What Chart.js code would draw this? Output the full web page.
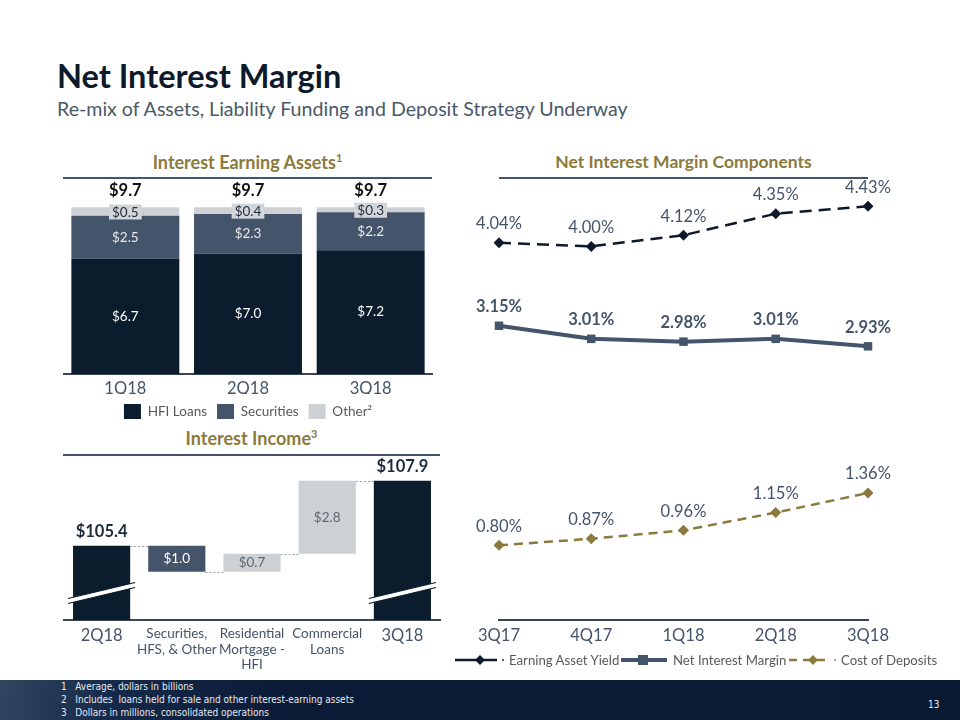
<!DOCTYPE html>
<html>
<head>
<meta charset="utf-8">
<script src="https://cdn.jsdelivr.net/npm/chart.js@4.4.1/dist/chart.umd.min.js"></script>
<style>
  html,body{margin:0;padding:0;}
  body{width:960px;height:720px;position:relative;background:#fff;overflow:hidden;font-family:Lato,"Open Sans",sans-serif;}
  .abs{position:absolute;}
  #title{left:57px;top:56px;font-size:32.5px;font-weight:bold;color:#0c1a2b;white-space:nowrap;}
  #sub{left:57px;top:97px;font-size:19.6px;color:#4a5968;white-space:nowrap;}
  .sect{font-size:17.5px;font-weight:bold;color:#8b7a3e;text-align:center;white-space:nowrap;}
  .sect sup{font-size:11px;vertical-align:7px;line-height:0;}
  .rule{height:2px;background:#44546a;}
  canvas{position:absolute;}
  #legend3{left:455px;top:650px;height:20px;font-size:13.2px;color:#595959;white-space:nowrap;}
  #legend3 .it{position:absolute;top:0;height:20px;line-height:20px;}
  #footer{left:0;top:680px;width:960px;height:40px;background:linear-gradient(100deg,#31465f 0%,#15294a 12%,#0b1b36 30%,#0a1a33 100%);}
  .fn{position:absolute;font-family:"Liberation Sans Narrow","DejaVu Sans Condensed",sans-serif;font-size:10px;color:#e6e9ee;white-space:nowrap;line-height:12px;}
</style>
</head>
<body>
<div id="title" class="abs">Net Interest Margin</div>
<div id="sub" class="abs">Re-mix of Assets, Liability Funding and Deposit Strategy Underway</div>

<div class="abs sect" style="left:63px;width:369px;top:151px;font-size:18px;">Interest Earning Assets<sup>1</sup></div>
<div class="abs rule" style="left:63px;width:369px;top:177px;"></div>

<div class="abs sect" style="left:63px;width:377px;top:427px;font-size:18px;">Interest Income<sup>3</sup></div>
<div class="abs rule" style="left:63px;width:377px;top:454px;"></div>

<div class="abs sect" style="left:499px;width:369px;top:151px;">Net Interest Margin Components</div>
<div class="abs rule" style="left:499px;width:369px;top:177px;"></div>

<canvas id="c1" style="left:56px;top:180px;width:384px;height:249px;" width="384" height="249"></canvas>
<canvas id="c2" style="left:56px;top:445px;width:392px;height:230px;" width="392" height="230"></canvas>
<canvas id="c3" style="left:440px;top:175px;width:500px;height:475px;" width="500" height="475"></canvas>

<div id="legend3" class="abs">
  <div class="it" style="left:0;">
    <svg width="54" height="20" style="position:absolute;left:0;top:0;">
      <line x1="0" y1="10" x2="42" y2="10" stroke="#0c1a2b" stroke-width="2.5"/>
      <polygon points="25,5 30,10 25,15 20,10" fill="#0c1a2b"/>
      <circle cx="48" cy="10" r="0.9" fill="#0c1a2b"/>
    </svg>
    <span style="position:absolute;left:54px;">Earning Asset Yield</span>
  </div>
  <div class="it" style="left:166px;">
    <svg width="48" height="20" style="position:absolute;left:0;top:0;">
      <line x1="0" y1="10" x2="46" y2="10" stroke="#44546a" stroke-width="4"/>
      <rect x="17" y="5" width="10" height="10" fill="#44546a"/>
    </svg>
    <span style="position:absolute;left:52px;">Net Interest Margin</span>
  </div>
  <div class="it" style="left:334px;">
    <svg width="50" height="20" style="position:absolute;left:0;top:0;">
      <line x1="0" y1="10" x2="41" y2="10" stroke="#8b7a3e" stroke-width="2.5" stroke-dasharray="8,6"/>
      <polygon points="24,5 29,10 24,15 19,10" fill="#8b7a3e"/>
      <circle cx="46" cy="10" r="0.9" fill="#8b7a3e"/>
    </svg>
    <span style="position:absolute;left:52px;">Cost of Deposits</span>
  </div>
</div>

<div id="footer" class="abs">
  <div class="fn" style="left:61px;top:1px;">1&nbsp;&nbsp;&nbsp;Average, dollars in billions</div>
  <div class="fn" style="left:61px;top:14px;">2&nbsp;&nbsp;&nbsp;Includes&nbsp; loans held for sale and other interest-earning assets</div>
  <div class="fn" style="left:61px;top:27px;">3&nbsp;&nbsp;&nbsp;Dollars in millions, consolidated operations</div>
  <div class="fn" style="left:928px;top:19px;">13</div>
</div>

<script>
// ---------- DATA ----------
const assetQuarters = ['1Q18', '2Q18', '3Q18'];
const hfiLoans = [6.7, 7.0, 7.2];
const securities = [2.5, 2.3, 2.2];
const otherAssets = [0.5, 0.4, 0.3];
const assetTotals = [9.7, 9.7, 9.7];

const incomeCategories = ['2Q18', ['Securities,', 'HFS, & Other'], ['Residential', 'Mortgage -', 'HFI'], ['Commercial', 'Loans'], '3Q18'];
const incomeStart = 105.4;
const incomeChanges = [-1.0, 0.7, 2.8];
const incomeEnd = 107.9;

const nimQuarters = ['3Q17', '4Q17', '1Q18', '2Q18', '3Q18'];
const earningAssetYield = [4.04, 4.00, 4.12, 4.35, 4.43];
const netInterestMargin = [3.15, 3.01, 2.98, 3.01, 2.93];
const costOfDeposits = [0.80, 0.87, 0.96, 1.15, 1.36];

// ---------- STYLE ----------
const NAVY = '#0b1d2c';
const SLATE = '#44546a';
const LIGHT = '#cdd1d4';
const GOLD = '#8b7a3e';
const FONT = 'Lato';

Chart.defaults.font.family = FONT;
Chart.defaults.animation = false;

// ---------- CHART 1: Interest Earning Assets ----------
const assetLabelPlugin = {
  id: 'assetLabels',
  afterDatasetsDraw(chart) {
    const ctx = chart.ctx;
    ctx.save();
    ctx.textAlign = 'center';
    ctx.textBaseline = 'middle';
    chart.data.datasets.forEach((ds, di) => {
      const meta = chart.getDatasetMeta(di);
      meta.data.forEach((bar, i) => {
        const txt = '$' + ds.data[i].toFixed(1);
        const yMid = (bar.y + bar.base) / 2;
        ctx.font = '13.5px ' + FONT;
        if (di === 2) {
          const w = ctx.measureText(txt).width + 6;
          ctx.fillStyle = '#d2d6d9';
          ctx.fillRect(bar.x - w / 2, yMid - 7, w, 15);
          ctx.fillStyle = '#1e2c3b';
          ctx.fillText(txt, bar.x, yMid + 1);
        } else {
          ctx.fillStyle = di === 0 ? '#ffffff' : '#e8eaec';
          ctx.fillText(txt, bar.x, yMid);
        }
      });
    });
    const tops = chart.getDatasetMeta(2).data;
    ctx.font = 'bold 16.5px ' + FONT;
    ctx.fillStyle = '#111111';
    assetTotals.forEach((t, i) => {
      ctx.fillText('$' + t.toFixed(1), tops[i].x, tops[i].y - 17);
    });
    ctx.restore();
  }
};

new Chart(document.getElementById('c1'), {
  type: 'bar',
  data: {
    labels: assetQuarters,
    datasets: [
      { label: 'HFI Loans', data: hfiLoans, backgroundColor: NAVY },
      { label: 'Securities', data: securities, backgroundColor: SLATE },
      { label: 'Other\u00B2', data: otherAssets, backgroundColor: LIGHT }
    ]
  },
  options: {
    responsive: false,
    maintainAspectRatio: false,
    layout: { padding: { left: 8, right: 8, top: 10, bottom: 0 } },
    datasets: { bar: { categoryPercentage: 1.0, barPercentage: 0.88 } },
    scales: {
      x: {
        stacked: true,
        grid: { display: false, drawTicks: false },
        border: { display: true, color: '#3a4656', width: 2 },
        ticks: { color: SLATE, font: { size: 16.5 }, padding: 5 },
        afterFit(s) { s.height = 20; }
      },
      y: { stacked: true, display: false, min: 0, max: 10.7 }
    },
    plugins: {
      legend: {
        position: 'bottom',
        labels: { boxWidth: 17, boxHeight: 15, color: '#595959', font: { size: 13.5 }, padding: 10 }
      },
      tooltip: { enabled: false }
    }
  },
  plugins: [assetLabelPlugin]
});

// ---------- CHART 2: Interest Income waterfall ----------
const incomeAxisMin = 102.55;
const incomeRanges = [];
const incomeLevels = [];
let running = incomeStart;
incomeRanges.push([incomeAxisMin, incomeStart]);
incomeLevels.push(incomeStart);
incomeChanges.forEach(c => {
  const next = running + c;
  incomeRanges.push([Math.min(running, next), Math.max(running, next)]);
  incomeLevels.push(next);
  running = next;
});
incomeRanges.push([incomeAxisMin, incomeEnd]);
const incomeValues = [incomeStart, ...incomeChanges, incomeEnd];
const incomeColors = [NAVY, SLATE, LIGHT, LIGHT, NAVY];

const waterfallPlugin = {
  id: 'waterfall',
  afterDatasetsDraw(chart) {
    const ctx = chart.ctx;
    const yS = chart.scales.y;
    const bars = chart.getDatasetMeta(0).data;
    ctx.save();
    // dotted connectors
    ctx.strokeStyle = '#9a9a9a';
    ctx.lineWidth = 1;
    ctx.setLineDash([2, 2]);
    for (let i = 0; i < bars.length - 1; i++) {
      const y = Math.round(yS.getPixelForValue(incomeLevels[i])) + 0.5;
      ctx.beginPath();
      ctx.moveTo(bars[i].x + bars[i].width / 2, y);
      ctx.lineTo(bars[i + 1].x - bars[i + 1].width / 2, y);
      ctx.stroke();
    }
    ctx.setLineDash([]);
    // axis break marks on total bars
    [0, bars.length - 1].forEach(i => {
      const b = bars[i];
      const x0 = b.x - b.width / 2 - 5, x1 = b.x + b.width / 2 + 5;
      const yc = chart.chartArea.bottom - 27;
      const rise = 16;
      ctx.beginPath();
      ctx.moveTo(x0, yc + rise / 2 - 2.5);
      ctx.lineTo(x1, yc - rise / 2 - 2.5);
      ctx.lineTo(x1, yc - rise / 2 + 2.5);
      ctx.lineTo(x0, yc + rise / 2 + 2.5);
      ctx.closePath();
      ctx.fillStyle = '#ffffff';
      ctx.fill();
      ctx.strokeStyle = NAVY;
      ctx.lineWidth = 1.2;
      ctx.beginPath();
      ctx.moveTo(x0, yc + rise / 2 - 2.5); ctx.lineTo(x1, yc - rise / 2 - 2.5);
      ctx.moveTo(x0, yc + rise / 2 + 2.5); ctx.lineTo(x1, yc - rise / 2 + 2.5);
      ctx.stroke();
    });
    // labels
    ctx.textAlign = 'center';
    ctx.textBaseline = 'middle';
    bars.forEach((b, i) => {
      const v = incomeValues[i];
      const txt = '$' + Math.abs(v).toFixed(1);
      if (i === 0 || i === bars.length - 1) {
        ctx.font = 'bold 16.5px ' + FONT;
        ctx.fillStyle = '#1c2b3a';
        ctx.fillText(txt, b.x, Math.min(b.y, b.base) - 14);
      } else {
        ctx.font = '13.5px ' + FONT;
        ctx.fillStyle = i === 1 ? '#ffffff' : '#5d6873';
        ctx.fillText(txt, b.x, (b.y + b.base) / 2);
      }
    });
    ctx.restore();
  }
};

new Chart(document.getElementById('c2'), {
  type: 'bar',
  data: {
    labels: incomeCategories,
    datasets: [{ data: incomeRanges, backgroundColor: incomeColors }]
  },
  options: {
    responsive: false,
    maintainAspectRatio: false,
    layout: { padding: { left: 8, right: 8, top: 15, bottom: 0 } },
    datasets: { bar: { categoryPercentage: 1.0, barPercentage: 0.76 } },
    scales: {
      x: {
        grid: { display: false, drawTicks: false },
        border: { display: true, color: '#3a4656', width: 2 },
        ticks: {
          color: SLATE,
          padding: 6,
          maxRotation: 0,
          autoSkip: false,
          font: (c) => ({ size: (c.index === 0 || c.index === 4) ? 16.5 : 13.5, lineHeight: 1.15 })
        },
        afterFit(s) { s.height = 55; }
      },
      y: { display: false, min: incomeAxisMin, max: 108.70 }
    },
    plugins: { legend: { display: false }, tooltip: { enabled: false } }
  },
  plugins: [waterfallPlugin]
});

// ---------- CHART 3: NIM components ----------
const pointLabelPlugin = {
  id: 'pointLabels',
  afterDatasetsDraw(chart) {
    const ctx = chart.ctx;
    ctx.save();
    ctx.textAlign = 'center';
    ctx.textBaseline = 'middle';
    chart.data.datasets.forEach((ds, di) => {
      const meta = chart.getDatasetMeta(di);
      ctx.font = (ds.labelBold ? 'bold ' : '') + '16.5px ' + FONT;
      ctx.fillStyle = ds.labelColor;
      meta.data.forEach((pt, i) => {
        ctx.fillText(ds.data[i].toFixed(2) + '%', pt.x, pt.y - 19);
      });
    });
    ctx.restore();
  }
};

new Chart(document.getElementById('c3'), {
  type: 'line',
  data: {
    labels: nimQuarters,
    datasets: [
      {
        label: 'Earning Asset Yield', data: earningAssetYield,
        borderColor: '#0c1a2b', backgroundColor: '#0c1a2b', borderWidth: 2.5,
        borderDash: [12, 7], pointStyle: 'rectRot', pointRadius: 5.5, pointBorderWidth: 0,
        labelColor: SLATE, labelBold: false
      },
      {
        label: 'Net Interest Margin', data: netInterestMargin,
        borderColor: SLATE, backgroundColor: SLATE, borderWidth: 4,
        pointStyle: 'rect', pointRadius: 6, pointBorderWidth: 0,
        labelColor: SLATE, labelBold: true
      },
      {
        label: 'Cost of Deposits', data: costOfDeposits,
        borderColor: GOLD, backgroundColor: GOLD, borderWidth: 2.5,
        borderDash: [9, 6], pointStyle: 'rectRot', pointRadius: 5.5, pointBorderWidth: 0,
        labelColor: SLATE, labelBold: false
      }
    ]
  },
  options: {
    responsive: false,
    maintainAspectRatio: false,
    layout: { padding: { left: 59, right: 72, top: 5.5, bottom: 0 } },
    elements: { line: { tension: 0 } },
    scales: {
      x: {
        offset: false,
        grid: { display: false, drawTicks: false },
        border: { display: true, color: '#3a4656', width: 2 },
        ticks: { color: SLATE, font: { size: 16.5 }, padding: 6 },
        afterFit(s) { s.height = 30; }
      },
      y: { display: false, min: 0, max: 4.7 }
    },
    plugins: { legend: { display: false }, tooltip: { enabled: false } }
  },
  plugins: [pointLabelPlugin]
});
</script>
</body>
</html>
